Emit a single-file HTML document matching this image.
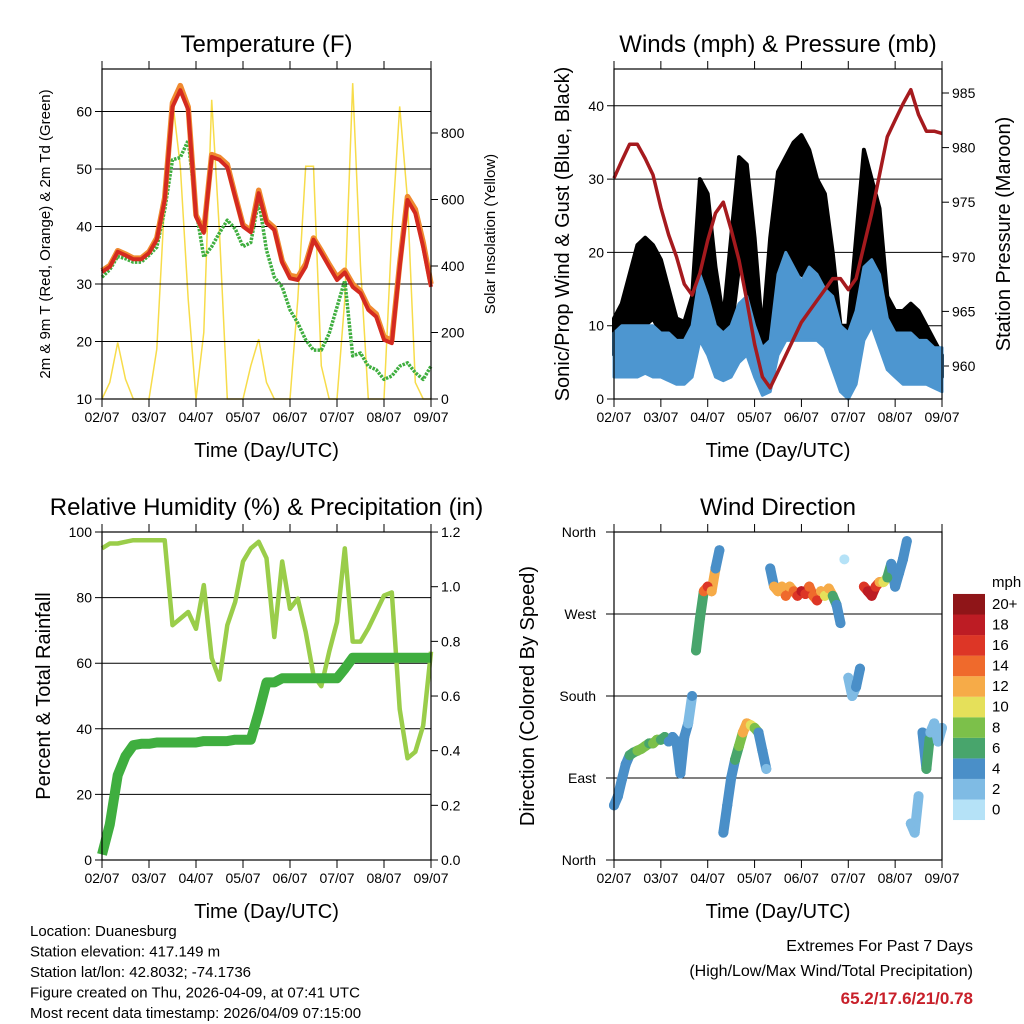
<!DOCTYPE html>
<html><head><meta charset="utf-8"><style>
html,body{margin:0;padding:0;background:#fff}
svg{display:block;font-family:"Liberation Sans",Arial,sans-serif}
</style></head><body>
<svg id="s" width="1024" height="1024" viewBox="0 0 1024 1024" xmlns="http://www.w3.org/2000/svg"></svg>
<script>
const dayLabels=["02/07","03/07","04/07","05/07","06/07","07/07","08/07","09/07"];
const temp9=[32.3,33.2,35.8,35.2,34.5,34.5,35.6,38,45,61.5,64.5,60.8,42,39.2,52.5,52,50.8,45.4,40.3,39.3,46.3,41,39.8,34,31.5,31.2,33.5,38,35.8,33.4,31.2,32.4,30,28.8,26,24.8,20.8,20.2,33.5,45.2,43,37.2,30];
const temp2=[32.1,33,35.6,35,34.3,34.3,35.4,37.7,44.6,60.8,63.7,60.3,41.7,38.9,52.1,51.6,50.3,45.1,40,39,45.8,40.6,39.4,33.7,31,30.7,33,37.7,35.4,33,30.7,32,29.5,28.4,25.5,24.3,20.3,19.7,33,44.6,42.3,36.4,29.5];
const dewpt=[31.2,32.5,34.8,34.4,33.8,33.8,35,36.4,42.9,51.6,52,55,42.9,34.7,36.5,38.9,41.1,39.6,36.5,37.2,44.6,35.9,31.2,29.5,25.5,23.2,20.3,18.5,18.5,21.4,26,30.6,17.5,18,15.7,15.1,13.4,14,15.7,16.3,14.6,13.4,15.7];
const solar=[0,50,170,60,0,0,0,150,600,900,700,300,0,200,900,500,0,0,0,100,180,50,0,0,0,300,700,700,100,0,0,300,950,400,0,0,0,500,880,600,50,0,0];
const gustHi=[11,13,17,21,22,21,19,15,11,10.5,14,30,28,18,11,22,33,32,22,9,22,31,33,35,36,34,30,28,20,10,10,22,34,30,26,14,12,12,13,12,10,8,6];
const gustLo=[6,7,8,9.5,10,11,9,7,6,5.5,7,16,15,8,6,9,18,16,8,3,9,15,16,17,17,16,16,12,6,4,4,10,19,18,12,7,6,6,6,6,5,4,3];
const windHi=[9,10,10,10,10,10,9,9,8,8,10,17,14,10,9,10,13,14,10,7,8,17,20,18,16,18,17,15,14,10,9,12,18,19,17,11,9,9,9,8,8,7,7];
const windLo=[3,3,3,3,3.5,3,3,2.5,2,2,3,8,6,3,2.5,3,5,6,3,0.5,1,6,8,8,8,8,8,7,4,1,0,2,8,10,7,4,3,2,2,2,2,1.5,1];
const pres=[977.2,978.8,980.3,980.3,979,977.5,974.5,972,970,967.5,966.5,968.5,971.5,974,975,972.5,969.7,966,962,959,958,959.5,961,962.5,964,965,966,967,968,968,967,968,971,974,977.5,981,982.5,984,985.3,983,981.5,981.5,981.3];
const rh=[95,96.5,96.5,97,97.5,97.5,97.5,97.5,97.5,71.6,73.6,75.6,70.5,83.8,61.6,55,71.6,78.7,91,95,97,92,68,91,76.6,79.7,69.5,56.3,53,63.5,72.6,95,66.6,66.6,70.6,75.6,80.6,81.6,46,31,33,41,63.5];
const precip=[0.02,0.13,0.31,0.38,0.42,0.425,0.425,0.43,0.43,0.43,0.43,0.43,0.43,0.435,0.435,0.435,0.435,0.44,0.44,0.44,0.54,0.65,0.65,0.665,0.665,0.665,0.665,0.665,0.665,0.665,0.665,0.70,0.74,0.74,0.74,0.74,0.74,0.74,0.74,0.74,0.74,0.74,0.74];
const wdir=[60,70,88,105,115,118,120,122,125,128,128,132,132,135,130,135,130,95,135,150,180,230,265,295,300,295,320,340,30,60,90,110,125,140,150,148,145,140,120,100,320,300,295,300,290,300,295,290,295,292,300,290,285,295,290,298,290,280,260,330,200,180,190,210,300,295,290,300,305,305,310,325,300,315,330,350,40,30,70,140,100,140,150,130,145];
const wspd=[4,4,4,5,6,7,8,9,8,7,8,8,7,6,5,4,4,4,4,3,4,6,7,14,16,12,4,4,4,4,5,7,8,12,13,10,8,5,4,2,5,12,13,12,14,12,15,17,18,16,14,15,17,13,10,12,6,4,4,1,2,2,4,5,17,19,18,17,13,10,7,5,4,4,4,4,3,3,2,4,6,2,2,2,2];
const cbLabels=["0","2","4","6","8","10","12","14","16","18","20+"];
const cbColors=["#b5e2f7","#7fbbe4","#4a8fc8","#48a56c","#7cc04a","#e5e05a","#f6ab48","#ef6a2c","#dd3626","#bd1c24","#8f1518"];

const S=document.getElementById('s');const NS="http://www.w3.org/2000/svg";
function el(t,a,p){const e=document.createElementNS(NS,t);for(const k in a)e.setAttribute(k,a[k]);(p||S).appendChild(e);return e;}
function txt(x,y,s,sz,anc,p,extra){const e=el('text',Object.assign({x:x,y:y,'font-size':sz,'text-anchor':anc||'middle',fill:'#000'},extra||{}),p);e.textContent=s;return e;}

function panel(name,L,T,R,B){
  const g=el('g',{});
  
  
  return {g,L,T,R,B,x:d=>L+(R-L)*d/7};
}
function frame(P,title,xt,ylt,yrt){
  const {g,L,T,R,B}=P;
  el('rect',{x:L,y:T,width:R-L,height:B-T,fill:'none',stroke:'#000','stroke-width':1.2},g);
  for(let i=0;i<=7;i++){const x=P.x(i);
    el('line',{x1:x,y1:B,x2:x,y2:B+8,stroke:'#000','stroke-width':1},g);
    el('line',{x1:x,y1:T,x2:x,y2:T-8,stroke:'#000','stroke-width':1},g);
    const t=txt(x,B+23,dayLabels[i],14,'middle',g);
    
    }
  const tt=txt((L+R)/2,T-17,title,24,'middle',g);
  
  
  const xa=txt((L+R)/2,B+58,xt,20,'middle',g);
  
  
  const cy=(T+B)/2;
  const yl=txt(0,0,ylt[0],ylt[1],'middle',g,{transform:`translate(${L-ylt[2]},${cy}) rotate(-90)`});
  
  
  if(yrt){const yr=txt(0,0,yrt[0],yrt[1],'middle',g,{transform:`translate(${R+yrt[2]},${cy}) rotate(-90)`});
  
  }
}
function yTicks(P,vals,fy,side,grid,fmt){
  const {g,L,R}=P;
  vals.forEach(v=>{const y=fy(v);
    if(side==='l'){
      if(grid)el('line',{x1:L-7,y1:y,x2:R,y2:y,stroke:'#000','stroke-width':1},g);
      else el('line',{x1:L-7,y1:y,x2:L,y2:y,stroke:'#000','stroke-width':1},g);
      const t=txt(L-10,y+5,fmt?fmt(v):String(v),14,'end',g);
      
      
    }else{
      el('line',{x1:R,y1:y,x2:R+7,y2:y,stroke:'#000','stroke-width':1},g);
      const t=txt(R+10,y+5,fmt?fmt(v):String(v),14,'start',g);
      
      
    }});
}
function path(P,arr,fy){return arr.map((v,i)=>(i?'L':'M')+P.x(i/6).toFixed(1)+','+fy(v).toFixed(1)).join('');}
function band(P,hi,lo,fy){
  let d=hi.map((v,i)=>(i?'L':'M')+P.x(i/6).toFixed(1)+','+fy(v).toFixed(1)).join('');
  for(let i=lo.length-1;i>=0;i--)d+='L'+P.x(i/6).toFixed(1)+','+fy(lo[i]).toFixed(1);
  return d+'Z';
}

// Panel 1 Temperature
const P1=panel('temperature-panel',102,69,431,399);
const ty=v=>399-(v-10)*5.75, sy=v=>399-v*0.3325;
let e;
e=el('path',{d:path(P1,solar,sy),fill:'none',stroke:'#f7dc4a','stroke-width':1.5},P1.g);


yTicks(P1,[10,20,30,40,50,60],ty,'l',true);
yTicks(P1,[0,200,400,600,800],sy,'r',false);
e=el('path',{d:path(P1,dewpt,ty),fill:'none',stroke:'#3fae3f','stroke-width':3.5,'stroke-dasharray':'2.5 1.2','stroke-linejoin':'round'},P1.g);


e=el('path',{d:path(P1,temp9,ty),fill:'none',stroke:'#f08a30','stroke-width':5.5,'stroke-linejoin':'round'},P1.g);


e=el('path',{d:path(P1,temp2,ty),fill:'none',stroke:'#d42a20','stroke-width':4,'stroke-linejoin':'round'},P1.g);


frame(P1,'Temperature (F)','Time (Day/UTC)',['2m & 9m T (Red, Orange) & 2m Td (Green)',15,52],['Solar Insolation (Yellow)',15,64]);

// Panel 2 Winds
const P2=panel('winds-panel',614,69,942,399);
const wy=v=>399-v*7.33, py=v=>366-(v-960)*10.92;
yTicks(P2,[0,10,20,30,40],wy,'l',true);
yTicks(P2,[960,965,970,975,980,985],py,'r',false);
e=el('path',{d:band(P2,gustHi,gustLo,wy),fill:'#000',stroke:'#000','stroke-width':4,'stroke-linejoin':'round'},P2.g);


e=el('path',{d:band(P2,windHi,windLo,wy),fill:'#4d96d0',stroke:'#4d96d0','stroke-width':3,'stroke-linejoin':'round'},P2.g);


e=el('path',{d:path(P2,pres,py),fill:'none',stroke:'#a51a1e','stroke-width':3.5,'stroke-linejoin':'round'},P2.g);


frame(P2,'Winds (mph) & Pressure (mb)','Time (Day/UTC)',['Sonic/Prop Wind & Gust (Blue, Black)',20,45],['Station Pressure (Maroon)',20,68]);

// Panel 3 RH
const P3=panel('humidity-panel',102,532,431,860);
const hy=v=>860-v*3.28, ry=v=>860-v*273.3;
yTicks(P3,[0,20,40,60,80,100],hy,'l',true);
yTicks(P3,[0,0.2,0.4,0.6,0.8,1.0,1.2],ry,'r',false,v=>v.toFixed(1));
e=el('path',{d:path(P3,rh,hy),fill:'none',stroke:'#9acd4a','stroke-width':4.5,'stroke-linejoin':'round'},P3.g);


e=el('path',{d:path(P3,precip,ry),fill:'none',stroke:'#3fae3f','stroke-width':10,'stroke-linejoin':'round'},P3.g);


frame(P3,'Relative Humidity (%) & Precipitation (in)','Time (Day/UTC)',['Percent & Total Rainfall',20,52],null);

// Panel 4 Wind direction
const P4=panel('wind-direction-panel',614,532,942,860);
const dy=v=>860-v*328/360;
const dirNames=[[0,'North'],[90,'East'],[180,'South'],[270,'West'],[360,'North']];
dirNames.forEach(([v,n])=>{const y=dy(v);
  if(v>0&&v<360)el('line',{x1:606,y1:y,x2:942,y2:y,stroke:'#000','stroke-width':1},P4.g);
  el('line',{x1:606,y1:y,x2:614,y2:y,stroke:'#000','stroke-width':1},P4.g);
  const t=txt(596,y+5,n,14,'end',P4.g);
  
  });
const bin=s=>Math.min(10,Math.floor(s/2));
for(let i=0;i<wdir.length-1;i++){
  if(Math.abs(wdir[i+1]-wdir[i])<=40){
    const s=el('line',{x1:P4.x(i/12),y1:dy(wdir[i]),x2:P4.x((i+1)/12),y2:dy(wdir[i+1]),stroke:cbColors[bin(wspd[i])],'stroke-width':10,'stroke-linecap':'round'},P4.g);
    
    
  }
}
wdir.forEach((v,i)=>{
  const c=el('circle',{cx:P4.x(i/12),cy:dy(v),r:5,fill:cbColors[bin(wspd[i])]},P4.g);
  
  });
frame(P4,'Wind Direction','Time (Day/UTC)',['Direction (Colored By Speed)',20,80],null);
// colorbar
const cb=el('g',{});


txt(992,587,'mph',15,'start',cb);
cbColors.forEach((c,i)=>{const y=820-(i+1)*20.55;
  const r=el('rect',{x:953,y:y,width:32,height:20.6,fill:c},cb);
  
  
  const t=txt(992,y+15,cbLabels[i],15,'start',cb);
  
  });

// footer text
const info=["Location: Duanesburg","Station elevation: 417.149 m","Station lat/lon: 42.8032; -74.1736","Figure created on Thu, 2026-04-09, at 07:41 UTC","Most recent data timestamp: 2026/04/09 07:15:00"];
info.forEach((s,i)=>{const t=txt(30,936+i*20.5,s,15,'start');
  
  });
let t1=txt(973,951,'Extremes For Past 7 Days',16,'end');


t1=txt(973,976,'(High/Low/Max Wind/Total Precipitation)',16,'end');


t1=txt(973,1004,'65.2/17.6/21/0.78',17,'end',null,{fill:'#c8202a','font-weight':'bold'});


</script>
</body></html>
